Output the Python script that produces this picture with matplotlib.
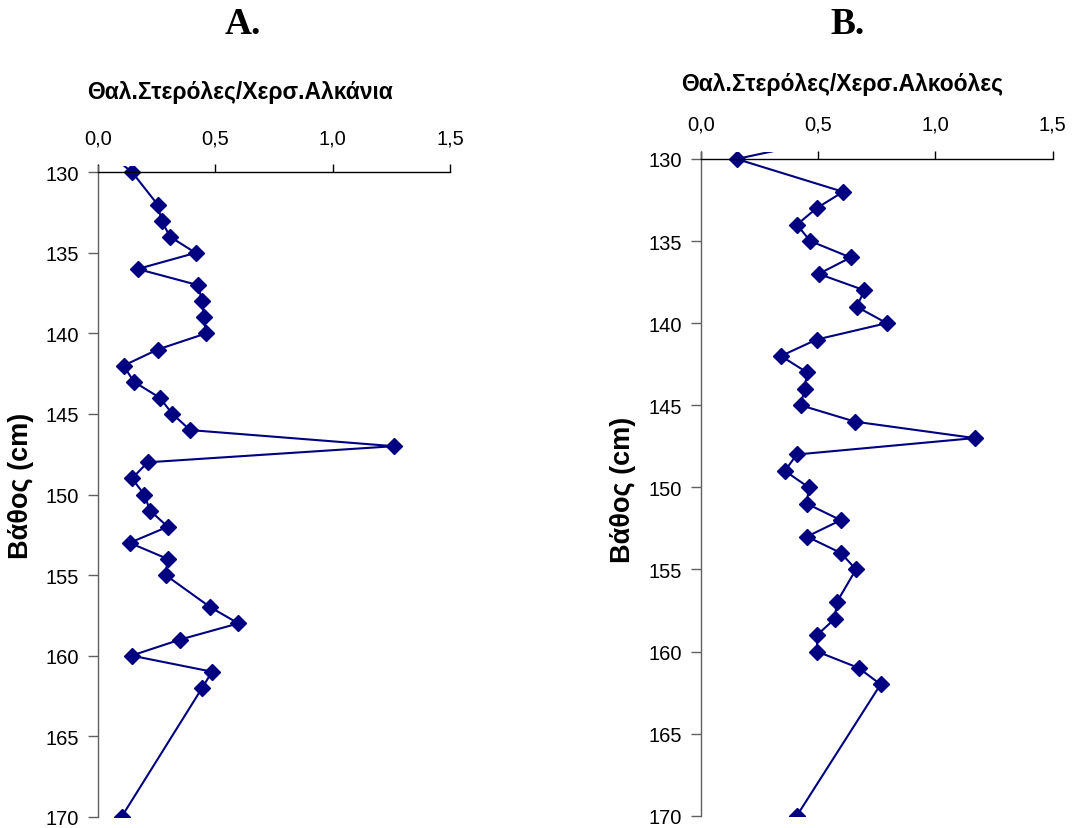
import matplotlib
matplotlib.use("Agg")
import matplotlib.pyplot as plt
from matplotlib.ticker import FuncFormatter

# Depth profile (cm); first value lies just above the plotted window
depth = [129, 130, 132, 133, 134, 135, 136, 137, 138, 139, 140, 141, 142, 143,
         144, 145, 146, 147, 148, 149, 150, 151, 152, 153, 154, 155, 157, 158,
         159, 160, 161, 162, 170]

# Marine sterols / terrestrial alkanes
ratio_alkanes = [0.06, 0.146, 0.254, 0.271, 0.307, 0.416, 0.169, 0.426, 0.443,
                 0.452, 0.460, 0.254, 0.109, 0.153, 0.264, 0.317, 0.393, 1.261,
                 0.212, 0.145, 0.197, 0.222, 0.297, 0.135, 0.297, 0.288, 0.479,
                 0.598, 0.351, 0.143, 0.486, 0.444, 0.101]

# Marine sterols / terrestrial alcohols
ratio_alcohols = [0.48, 0.152, 0.606, 0.493, 0.409, 0.466, 0.638, 0.502, 0.697,
                  0.664, 0.792, 0.493, 0.341, 0.452, 0.442, 0.425, 0.657, 1.167,
                  0.408, 0.358, 0.459, 0.452, 0.596, 0.452, 0.597, 0.661, 0.579,
                  0.571, 0.495, 0.495, 0.672, 0.766, 0.409]

x_ticks = [0.0, 0.5, 1.0, 1.5]
y_ticks = [130, 135, 140, 145, 150, 155, 160, 165, 170]

panel_letters = ["A.", "B."]
x_titles = ["Θαλ.Στερόλες/Χερσ.Αλκάνια", "Θαλ.Στερόλες/Χερσ.Αλκοόλες"]
y_title = "Βάθος (cm)"

W, H = 1073, 829
fig = plt.figure(figsize=(W / 100, H / 100), dpi=100)
fig.patch.set_facecolor("white")

plt.rcParams["font.family"] = ["Liberation Sans", "DejaVu Sans"]

navy = "#000080"


def box(left, right, top, bottom):
    return [left / W, 1 - bottom / H, (right - left) / W, (bottom - top) / H]


comma = FuncFormatter(lambda v, p: f"{v:.1f}".replace(".", ","))

panels = [
    dict(rect=box(98, 450, 166.9, 817.7), values=ratio_alkanes,
         title_xy=(240, 92), letter_xy=(243, 25), ylab_xy=(21, 486)),
    dict(rect=box(701, 1052.7, 153.4, 816.7), values=ratio_alcohols,
         title_xy=(842, 85), letter_xy=(848, 25), ylab_xy=(623, 490)),
]

for i, p in enumerate(panels):
    ax = fig.add_axes(p["rect"])
    ax.plot(p["values"], depth, color=navy, lw=1.5, marker="D", ms=8.5,
            mfc=navy, mec=navy, clip_on=True)
    ax.set_xlim(0, 1.5)
    ax.set_ylim(170, 129.6)

    ax.spines["right"].set_visible(False)
    ax.spines["bottom"].set_visible(False)
    ax.spines["top"].set_position(("data", 130))
    ax.spines["top"].set_color("black")
    ax.spines["top"].set_linewidth(1.0)
    ax.spines["left"].set_color("#606060")
    ax.spines["left"].set_linewidth(1.0)

    ax.xaxis.set_ticks_position("top")
    ax.xaxis.set_label_position("top")
    ax.set_xticks(x_ticks)
    ax.xaxis.set_major_formatter(comma)
    ax.set_yticks(y_ticks)
    ax.tick_params(axis="x", direction="out", length=6, width=1.0,
                   color="black", labelsize=14.5, pad=12)
    ax.tick_params(axis="y", direction="out", length=7, width=1.0,
                   color="#606060", labelsize=14.5, pad=6.5)

    fig.text(p["title_xy"][0] / W, 1 - p["title_xy"][1] / H, x_titles[i],
             ha="center", va="center", fontsize=16.5, fontweight="bold")
    fig.text(p["letter_xy"][0] / W, 1 - p["letter_xy"][1] / H, panel_letters[i],
             ha="center", va="center", fontsize=27, fontweight="bold",
             family=["Liberation Serif", "DejaVu Serif"])
    fig.text(p["ylab_xy"][0] / W, 1 - p["ylab_xy"][1] / H, y_title,
             ha="center", va="center", rotation=90, fontsize=19.5,
             fontweight="bold")

fig.savefig("out.png", dpi=100, facecolor="white")
